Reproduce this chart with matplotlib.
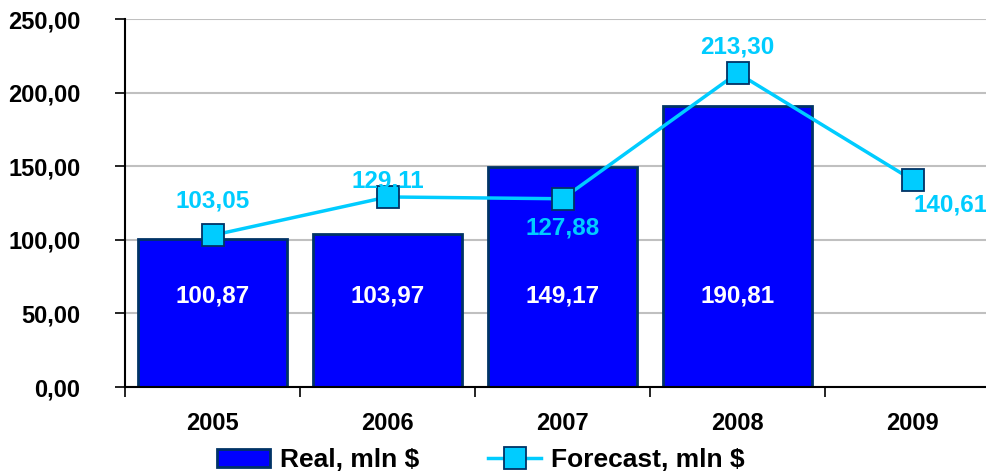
import numpy as np
import matplotlib.pyplot as plt
from matplotlib.ticker import FixedLocator, FuncFormatter

plt.rcParams['font.family'] = ['Liberation Sans', 'DejaVu Sans']
plt.rcParams['font.weight'] = 'bold'

years = ['2005', '2006', '2007', '2008', '2009']
real = [100.87, 103.97, 149.17, 190.81, np.nan]
forecast = [103.05, 129.11, 127.88, 213.30, 140.61]

# label placement for the forecast values: (dx in categories, dy in data units)
fc_offsets = [(0, 23), (0, 11), (0, -20), (0, 18), (0.22, -17)]

fig = plt.figure(figsize=(9.87, 4.75), dpi=100)
ax = fig.add_axes([125 / 987, 1 - 387 / 475, 875 / 987, 368 / 475])

x = np.arange(len(years))
bars = ax.bar(x, real, width=0.85, color='#0000FF', edgecolor='#003366', linewidth=2,
              zorder=2, label='Real, mln $')
line, = ax.plot(x, forecast, color='#00CCFF', linewidth=2.5, marker='s', markersize=16,
                markerfacecolor='#00CCFF', markeredgecolor='#003366', markeredgewidth=1.3,
                zorder=3, label='Forecast, mln $')

for i, v in enumerate(real):
    if not np.isnan(v):
        ax.text(i, 62, f'{v:.2f}'.replace('.', ','), color='white', fontsize=17.5,
                fontweight='bold', ha='center', va='center', zorder=4)

for i, v in enumerate(forecast):
    dx, dy = fc_offsets[i]
    ax.text(i + dx, v + dy, f'{v:.2f}'.replace('.', ','), color='#00CCFF', fontsize=17.5,
            fontweight='bold', ha='center', va='center', zorder=4)

ax.set_xlim(-0.5, 4.5)
ax.set_ylim(0, 250)
ax.set_yticks(np.arange(0, 251, 50))
ax.yaxis.set_major_formatter(FuncFormatter(lambda v, p: f'{v:.2f}'.replace('.', ',')))
ax.grid(axis='y', color='#C0C0C0', linewidth=1.5, zorder=0)
ax.set_axisbelow(True)

ax.xaxis.set_major_locator(FixedLocator(np.arange(-0.5, 4.6, 1)))
ax.xaxis.set_major_formatter(FuncFormatter(lambda v, p: ''))
ax.xaxis.set_minor_locator(FixedLocator(x))
ax.set_xticklabels(years, minor=True)
ax.tick_params(axis='x', which='major', length=7, width=1.2, direction='out')
ax.tick_params(axis='x', which='minor', length=0, pad=18, labelsize=17)
ax.tick_params(axis='y', length=7, width=1.2, direction='out', pad=25, labelsize=17)

for s in ['top', 'right']:
    ax.spines[s].set_visible(False)
for s in ['left', 'bottom']:
    ax.spines[s].set_linewidth(1.5)
    ax.spines[s].set_color('black')

fig.legend([bars, line], ['Real, mln $', 'Forecast, mln $'], loc='center',
           bbox_to_anchor=(481 / 987, 1 - 460 / 475), ncol=2, frameon=False,
           fontsize=19, handlelength=2.0, columnspacing=2.6, handletextpad=0.4,
           borderaxespad=0)

fig.savefig('out.png', dpi=100)
